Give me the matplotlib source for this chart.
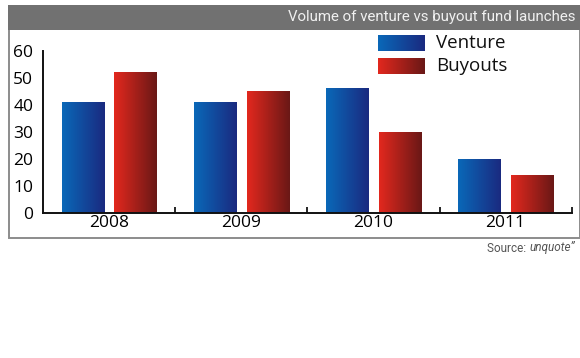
import numpy as np
import matplotlib
matplotlib.use("Agg")
import matplotlib.pyplot as plt
from matplotlib.colors import LinearSegmentedColormap
from matplotlib.patches import Rectangle

# data
years = ["2008", "2009", "2010", "2011"]
venture = [41, 41, 46, 20]
buyouts = [52, 45, 30, 14]
series_names = ["Venture", "Buyouts"]
y_ticks = [0, 10, 20, 30, 40, 50, 60]

title = "Volume of venture vs buyout fund launches"

blue_cmap = LinearSegmentedColormap.from_list("blue", ["#0a68b8", "#1a2a80"])
red_cmap = LinearSegmentedColormap.from_list("red", ["#e2281e", "#6a1816"])
grad = np.linspace(0, 1, 64).reshape(1, -1)

W, H = 580, 358
fig = plt.figure(figsize=(W / 100, H / 100), dpi=100)
fig.patch.set_facecolor("white")

def fx(px):
    return px / W

def fy(py):
    return 1 - py / H

narrow = ["Roboto", "DejaVu Sans"]
main_font = ["Open Sans", "DejaVu Sans"]

# outer frame and title bar
fig.add_artist(Rectangle((fx(8.5), fy(237.5)), fx(579.5) - fx(8.5), fy(29) - fy(237.5),
                         transform=fig.transFigure, fill=False, edgecolor="#8c8c8c", lw=1.4))
fig.add_artist(Rectangle((fx(8), fy(29.5)), 1 - fx(8), fy(5) - fy(29.5),
                         transform=fig.transFigure, facecolor="#717171", edgecolor="none"))
fig.text(fx(575), fy(17.5), title, ha="right", va="center", color="#f0f0f0",
         fontsize=10.8, family=narrow)

ax = fig.add_axes([fx(43), fy(212.7), fx(571.7) - fx(43), fy(50.7) - fy(212.7)])
ax.set_facecolor("none")

# source line: italic publication name, plain prefix
src = fig.text(fx(575), fy(248), "unquote\u201d", ha="right", va="center",
               color="#555555", fontsize=8.5, family=narrow, style="italic")
ax.annotate("Source: ", xy=(0, 0.5), xycoords=src, ha="right", va="center",
            color="#555555", fontsize=8.5, family=narrow, annotation_clip=False)

bar_w = 0.32
offset = 0.2
x = np.arange(len(years))
for vals, off, cmap in [(venture, -offset, blue_cmap), (buyouts, offset, red_cmap)]:
    for xi, v in zip(x, vals):
        ax.imshow(grad, cmap=cmap, aspect="auto", interpolation="bilinear",
                  extent=[xi + off - bar_w / 2, xi + off + bar_w / 2, 0, v], zorder=2)

ax.set_xlim(-0.5, 3.5)
ax.set_ylim(0, 60)
ax.set_xticks(x)
ax.set_xticklabels(years, fontsize=12.5, family=main_font)
ax.set_xticks(np.arange(0.5, 4, 1), minor=True)
ax.tick_params(axis="x", which="major", length=0, pad=2)
ax.tick_params(axis="x", which="minor", length=4, width=1.2, direction="in")
ax.set_yticks(y_ticks)
ax.set_yticklabels([str(t) for t in y_ticks], fontsize=12.5, family=main_font)
ax.tick_params(axis="y", length=0, pad=7)
for s in ["top", "right"]:
    ax.spines[s].set_visible(False)
for s in ["left", "bottom"]:
    ax.spines[s].set_linewidth(1.4)
    ax.spines[s].set_color("#111111")

# legend with gradient swatches
for i, (name, cmap) in enumerate(zip(series_names, [blue_cmap, red_cmap])):
    top = 35 + i * 23.3
    lax = fig.add_axes([fx(377.7), fy(top + 16), fx(424) - fx(377.7), fy(top) - fy(top + 16)])
    lax.imshow(grad, cmap=cmap, aspect="auto", interpolation="bilinear")
    lax.axis("off")
    fig.text(fx(436), fy(top + 8), name, ha="left", va="center", fontsize=13.5,
             family=main_font, color="#111111")

fig.savefig("out.png", dpi=100)
